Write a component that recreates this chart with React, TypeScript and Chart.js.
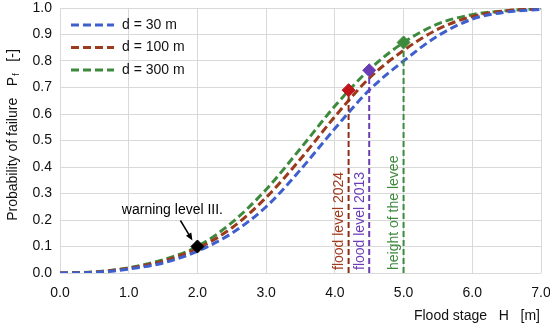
import React, { useEffect, useRef } from "react";
import { Chart, registerables } from "chart.js";

Chart.register(...registerables);

const stages = [0, 0.5, 1, 1.5, 2, 2.5, 3, 3.5, 4, 4.5, 5, 5.5, 6, 6.5, 7];
const pf30 = [0.0, 0.002, 0.015, 0.038, 0.082, 0.15, 0.25, 0.39, 0.545, 0.69, 0.8, 0.895, 0.958, 0.985, 0.995];
const pf100 = [0.0, 0.003, 0.018, 0.045, 0.093, 0.17, 0.285, 0.43, 0.59, 0.735, 0.84, 0.92, 0.968, 0.99, 0.997];
const pf300 = [0.0, 0.004, 0.02, 0.05, 0.1, 0.19, 0.315, 0.47, 0.63, 0.767, 0.87, 0.94, 0.975, 0.99, 0.998];

const seriesLabels = ["d = 30 m", "d = 100 m", "d = 300 m"];
const seriesColors = ["#3f5fcf", "#9b3a1c", "#3d8a3d"];

const markerNames = ["warning level III.", "flood level 2024", "flood level 2013", "height of the levee"];
const markerX = [2.0, 4.2, 4.5, 5.0];
const markerY = [0.1, 0.69, 0.765, 0.87];
const markerColors = ["#000000", "#c0141a", "#6a3db5", "#3d8a3d"];
const markerLineColors = ["#000000", "#8b2e14", "#6a3db5", "#3d8a3d"];
const labelColors = ["#000000", "#a0381c", "#6a3db5", "#3d8a3d"];

const xTicks = [0, 1, 2, 3, 4, 5, 6, 7];
const yTicks = [0, 0.1, 0.2, 0.3, 0.4, 0.5, 0.6, 0.7, 0.8, 0.9, 1.0];

const FONT = "Liberation Sans, Arial, sans-serif";

const overlay = {
  id: "overlay",
  afterDatasetsDraw(chart: any) {
    const { ctx, scales, chartArea } = chart;
    const xs = scales.x;
    const ys = scales.y;
    ctx.save();
    // legend
    ctx.font = `14px ${FONT}`;
    ctx.textBaseline = "middle";
    seriesLabels.forEach((lab, i) => {
      const yy = 25 + i * 22.5;
      ctx.strokeStyle = seriesColors[i];
      ctx.lineWidth = 3;
      ctx.setLineDash([8, 4]);
      ctx.beginPath();
      ctx.moveTo(71, yy);
      ctx.lineTo(114, yy);
      ctx.stroke();
      ctx.setLineDash([]);
      ctx.fillStyle = "#111";
      ctx.textAlign = "left";
      ctx.fillText(lab, 122, yy);
    });
    // vertical labels
    for (let i = 1; i < markerNames.length; i++) {
      const px = xs.getPixelForValue(markerX[i]) - 9;
      const py = ys.getPixelForValue(0) - 3;
      ctx.save();
      ctx.translate(px, py);
      ctx.rotate(-Math.PI / 2);
      ctx.fillStyle = labelColors[i];
      ctx.textAlign = "left";
      ctx.textBaseline = "middle";
      ctx.font = `14px ${FONT}`;
      ctx.fillText(markerNames[i], 0, 0);
      ctx.restore();
    }
    // warning text + arrow
    const wx = xs.getPixelForValue(markerX[0]);
    const wy = ys.getPixelForValue(markerY[0]);
    ctx.fillStyle = "#000";
    ctx.textAlign = "center";
    ctx.textBaseline = "middle";
    ctx.font = `14px ${FONT}`;
    ctx.fillText(markerNames[0], wx - 25, wy - 36);
    const ax0 = wx - 17, ay0 = wy - 26, ax1 = wx - 5, ay1 = wy - 6;
    const ang = Math.atan2(ay1 - ay0, ax1 - ax0);
    ctx.strokeStyle = "#000";
    ctx.lineWidth = 1.5;
    ctx.beginPath();
    ctx.moveTo(ax0, ay0);
    ctx.lineTo(ax1 - 3 * Math.cos(ang), ay1 - 3 * Math.sin(ang));
    ctx.stroke();
    ctx.beginPath();
    ctx.moveTo(ax1, ay1);
    ctx.lineTo(ax1 - 8 * Math.cos(ang - 0.4), ay1 - 8 * Math.sin(ang - 0.4));
    ctx.lineTo(ax1 - 8 * Math.cos(ang + 0.4), ay1 - 8 * Math.sin(ang + 0.4));
    ctx.closePath();
    ctx.fill();
    // y title
    const cy = (chartArea.top + chartArea.bottom) / 2 - 5;
    ctx.save();
    ctx.translate(13, cy);
    ctx.rotate(-Math.PI / 2);
    ctx.fillStyle = "#111";
    ctx.textBaseline = "middle";
    ctx.textAlign = "left";
    const f14 = `14px ${FONT}`;
    const f9 = `9px ${FONT}`;
    const s1 = "Probability of failure   P";
    const s2 = "f";
    const s3 = "   [-]";
    ctx.font = f14;
    const w1 = ctx.measureText(s1).width;
    const w3 = ctx.measureText(s3).width;
    ctx.font = f9;
    const w2 = ctx.measureText(s2).width;
    let sx = -(w1 + w2 + w3) / 2;
    ctx.font = f14;
    ctx.fillText(s1, sx, 0);
    sx += w1;
    ctx.font = f9;
    ctx.fillText(s2, sx + 1, 4);
    sx += w2 + 1;
    ctx.font = f14;
    ctx.fillText(s3, sx, 0);
    ctx.restore();
    // x title
    ctx.fillStyle = "#111";
    ctx.font = f14;
    ctx.textAlign = "right";
    ctx.textBaseline = "middle";
    ctx.fillText("Flood stage   H   [m]", chartArea.right - 1, 316);
    ctx.restore();
  },
};

export default function App() {
  const ref = useRef<HTMLCanvasElement>(null);
  useEffect(() => {
    document.body.style.margin = "0";
    const datasets: any[] = [];
    const curves = [pf30, pf100, pf300];
    curves.forEach((vals, i) => {
      datasets.push({
        label: seriesLabels[i],
        data: stages.map((s, k) => ({ x: s, y: vals[k] })),
        borderColor: seriesColors[i],
        borderWidth: 3,
        borderDash: [8, 4],
        pointRadius: 0,
        showLine: true,
        cubicInterpolationMode: "monotone",
        fill: false,
        order: 2,
      });
    });
    for (let i = 1; i < markerX.length; i++) {
      datasets.push({
        label: markerNames[i] + " line",
        data: [
          { x: markerX[i], y: 0 },
          { x: markerX[i], y: markerY[i] },
        ],
        borderColor: markerLineColors[i],
        borderWidth: 2,
        borderDash: [6, 3],
        pointRadius: 0,
        showLine: true,
        order: 1,
      });
    }
    for (let i = 0; i < markerX.length; i++) {
      datasets.push({
        label: markerNames[i],
        data: [{ x: markerX[i], y: markerY[i] }],
        pointStyle: "rectRot",
        pointRadius: 6.5,
        backgroundColor: markerColors[i],
        borderColor: markerColors[i],
        showLine: false,
        order: 0,
      });
    }
    const chart = new Chart(ref.current!, {
      type: "scatter",
      data: { datasets },
      options: {
        animation: false,
        responsive: false,
        layout: { padding: { top: 8, right: 9, left: 0, bottom: 0 } },
        plugins: { legend: { display: false }, tooltip: { enabled: false } },
        scales: {
          x: {
            type: "linear",
            min: 0,
            max: 7,
            afterBuildTicks: (s: any) => {
              s.ticks = xTicks.map((v) => ({ value: v }));
            },
            afterFit: (s: any) => {
              s.height = 56;
              s.paddingLeft = 0;
              s.paddingRight = 0;
            },
            ticks: {
              padding: 12,
              color: "#111",
              font: { size: 14, family: FONT },
              callback: (v: any) => Number(v).toFixed(1),
              maxRotation: 0,
            },
            grid: { color: "#d9d9d9", lineWidth: 1, drawTicks: false },
            border: { display: false },
          },
          y: {
            type: "linear",
            min: 0,
            max: 1,
            afterBuildTicks: (s: any) => {
              s.ticks = yTicks.map((v) => ({ value: v }));
            },
            afterFit: (s: any) => {
              s.width = 60;
              s.paddingTop = 0;
              s.paddingBottom = 0;
            },
            ticks: {
              padding: 8,
              color: "#111",
              font: { size: 14, family: FONT },
              callback: (v: any) => Number(v).toFixed(1),
            },
            grid: { color: "#d9d9d9", lineWidth: 1, drawTicks: false },
            border: { display: false },
          },
        },
      },
      plugins: [overlay],
    } as any);
    return () => chart.destroy();
  }, []);
  return (
    <div style={{ width: 550, height: 329 }}>
      <canvas ref={ref} width={550} height={329} style={{ display: "block" }} />
    </div>
  );
}
